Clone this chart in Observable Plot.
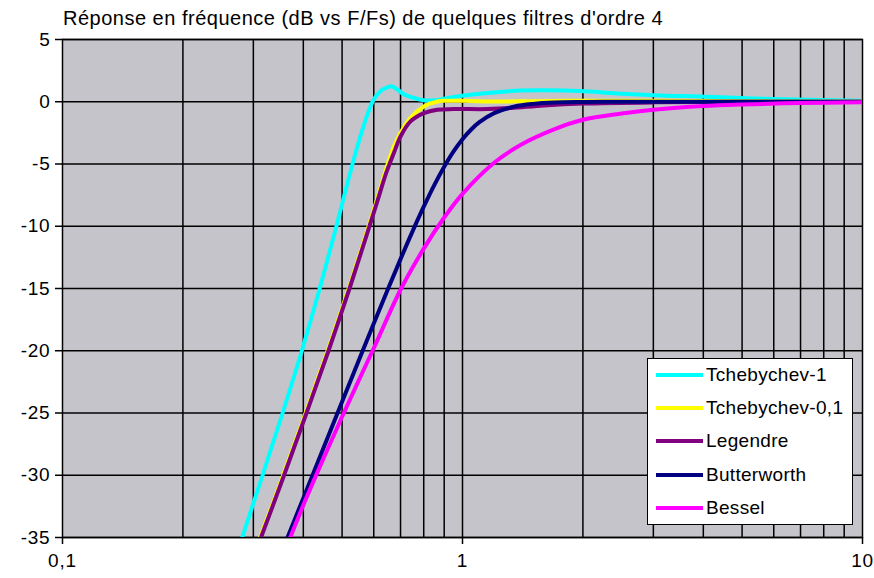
<!DOCTYPE html>
<html>
<head>
<meta charset="utf-8">
<script src="https://cdn.jsdelivr.net/npm/d3@7"></script>
<script src="https://cdn.jsdelivr.net/npm/@observablehq/plot@0.6"></script>
<style>
  html, body { margin: 0; padding: 0; background: #fff; }
  body { font-family: "Liberation Sans", Arial, sans-serif; color: #000; }
  #wrap { position: relative; width: 874px; height: 578px; overflow: hidden; }
  #title { position: relative; height: 29px; }
  #title span { position: absolute; left: 63px; top: 6px; font-size: 20px; line-height: 24px; white-space: nowrap; letter-spacing: 0.5px; }
  #legend { position: absolute; left: 647px; top: 358px; width: 206px; height: 167px; box-sizing: border-box;
            background: #fff; border: 1px solid #000; }
  .row { position: absolute; left: 0; height: 24px; display: flex; align-items: center; }
  .sw { width: 47px; height: 4px; margin-left: 8px; margin-right: 3px; }
  .lab { font-size: 19px; line-height: 24px; white-space: nowrap; letter-spacing: 0.3px; }
</style>
</head>
<body>
<div id="wrap">
  <div id="title"><span>Réponse en fréquence (dB vs F/Fs) de quelques filtres d'ordre 4</span></div>
  <div id="chart"></div>
  <div id="legend"></div>
</div>
<script>
// ---- Data ----
const seriesNames  = ["Tchebychev-1", "Tchebychev-0,1", "Legendre", "Butterworth", "Bessel"];
const seriesColors = ["#00ffff", "#ffff00", "#800080", "#000080", "#ff00ff"];

const cheb1F  = [0.27, 0.2813, 0.3164, 0.3551, 0.3966, 0.4395, 0.4839, 0.5066, 0.5309, 0.547, 0.5652, 0.5789, 0.5958, 0.6098, 0.6292, 0.6531, 0.6672, 0.6868, 0.7134, 0.7556, 0.8005, 0.8646, 0.9513, 1.047, 1.198, 1.396, 1.6, 1.972, 2.437, 3.126, 3.936, 4.955, 6.346, 10];
const cheb1dB = [-36.8, -35, -30, -25, -20, -15, -10, -7.5, -5, -3.5, -2, -1, 0, 0.5, 0.95, 1.2, 1.23, 1.0, 0.6, 0.3, 0.12, 0.15, 0.38, 0.56, 0.75, 0.9, 0.93, 0.86, 0.66, 0.5, 0.42, 0.3, 0.2, 0.08];

const cheb01F  = [0.305, 0.3135, 0.358, 0.4074, 0.4624, 0.5218, 0.5722, 0.6124, 0.6448, 0.6734, 0.6998, 0.7413, 0.8005, 0.8646, 0.906, 0.95, 1.05, 1.18, 1.5, 2.2, 3.0, 5.0, 10];
const cheb01dB = [-35.8, -34.8, -29.8, -24.8, -19.8, -14.8, -10.8, -7.75, -5.35, -3.6, -2.5, -1.3, -0.38, 0.02, 0.08, 0.09, 0.06, 0.02, 0.05, 0.09, 0.08, 0.04, 0.01];

const legF  = [0.305, 0.3135, 0.358, 0.4074, 0.4624, 0.5218, 0.5722, 0.6124, 0.6448, 0.6734, 0.6998, 0.7413, 0.8005, 0.8646, 0.9513, 1.153, 1.318, 1.6, 2.0, 3.0, 5.0, 10];
const legdB = [-36.0, -35, -30, -25, -20, -15, -11, -8, -5.7, -4.12, -2.79, -1.58, -0.91, -0.64, -0.59, -0.59, -0.51, -0.3, -0.15, -0.05, -0.01, 0];

const buttF  = [0.35, 0.4, 0.45, 0.5, 0.55, 0.6, 0.65, 0.7, 0.75, 0.8, 0.85, 0.9, 0.95, 1.0, 1.05, 1.1, 1.2, 1.35, 1.5, 1.7, 2.0, 2.5, 3, 4, 6, 10];
const buttdB = [-36.48, -31.84, -27.75, -24.10, -20.81, -17.82, -15.10, -12.64, -10.41, -8.43, -6.69, -5.22, -3.99, -3.01, -2.25, -1.66, -0.91, -0.38, -0.17, -0.06, -0.02, 0, 0, 0, 0, 0];

const besF  = [0.35, 0.37, 0.4, 0.45, 0.5, 0.55, 0.6, 0.7, 0.8, 0.9, 1.0, 1.2, 1.4, 1.7, 2.0, 2.5, 3, 4, 5, 7, 10];
const besdB = [-37.0, -35.1, -32.4, -28.6, -25.3, -22.4, -19.8, -15.1, -11.8, -9.3, -7.4, -4.9, -3.45, -2.2, -1.45, -0.95, -0.65, -0.35, -0.22, -0.1, -0.04];

const xTicks      = [0.1, 1, 10];
const xTickLabels = ["0,1", "1", "10"];
const xGrid       = [0.2, 0.3, 0.4, 0.5, 0.6, 0.7, 0.8, 0.9, 1, 2, 3, 4, 5, 6, 7, 8, 9];
const yTicks      = [5, 0, -5, -10, -15, -20, -25, -30, -35];
const yTickLabels = ["5", "0", "-5", "-10", "-15", "-20", "-25", "-30", "-35"];

// ---- Build tables ----
const seriesF  = [cheb1F, cheb01F, legF, buttF, besF];
const seriesDB = [cheb1dB, cheb01dB, legdB, buttdB, besdB];
const tables = seriesNames.map((name, k) => seriesF[k].map((f, i) => ({name, f, db: seriesDB[k][i]})));

const lineMarks = tables.map((t, k) => Plot.line(t, {
  x: "f", y: "db", stroke: seriesColors[k], strokeWidth: 4, curve: "catmull-rom", clip: true
}));

const chart = Plot.plot({
  width: 874, height: 549,
  marginTop: 10, marginLeft: 62, marginRight: 12, marginBottom: 41,
  x: {type: "log", domain: [0.1, 10]},
  y: {domain: [-35, 5]},
  style: {fontFamily: "'Liberation Sans', Arial, sans-serif", fontSize: "19px", letterSpacing: "0.8px", color: "#000", background: "transparent", overflow: "visible"},
  marks: [
    Plot.frame({fill: "#c5c4ca", stroke: null}),
    Plot.ruleX(xGrid, {stroke: "#000", strokeWidth: 1.5}),
    Plot.ruleY(yTicks, {stroke: "#000", strokeWidth: 1.5}),
    Plot.frame({stroke: "#000", strokeWidth: 1.5}),
    Plot.axisX({ticks: xTicks, tickFormat: d => xTickLabels[xTicks.indexOf(d)], tickSize: 7, tickPadding: 9, label: null, strokeWidth: 1.5}),
    Plot.axisY({ticks: yTicks, tickFormat: d => yTickLabels[yTicks.indexOf(d)], tickSize: 7, tickPadding: 5, label: null, strokeWidth: 1.5}),
    ...lineMarks
  ]
});
document.getElementById("chart").appendChild(chart);

// ---- Legend ----
const legend = document.getElementById("legend");
seriesNames.forEach((name, k) => {
  const row = document.createElement("div");
  row.className = "row";
  row.style.top = (16.7 + k * 33.3 - 12 - 1) + "px";
  const sw = document.createElement("div");
  sw.className = "sw";
  sw.style.background = seriesColors[k];
  const lab = document.createElement("span");
  lab.className = "lab";
  lab.textContent = name;
  row.appendChild(sw);
  row.appendChild(lab);
  legend.appendChild(row);
});
</script>
</body>
</html>
